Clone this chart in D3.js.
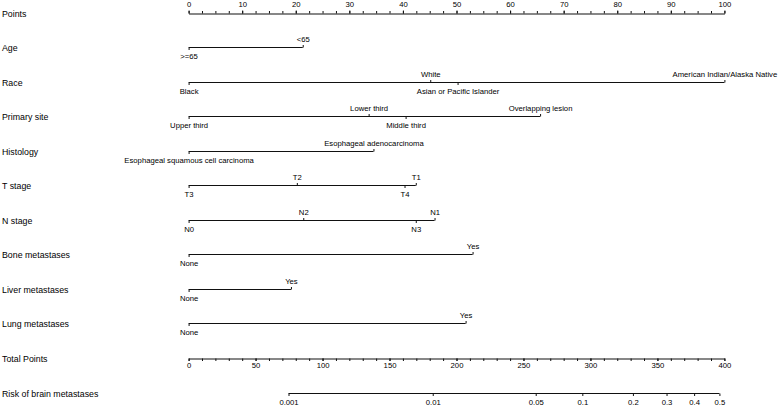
<!DOCTYPE html>
<html>
<head>
<meta charset="utf-8">
<script src="https://cdn.jsdelivr.net/npm/d3@7"></script>
<style>
  html, body { margin: 0; padding: 0; background: #fff; }
  svg { display: block; font-family: "Liberation Sans", Arial, Helvetica, sans-serif; }
  .rowlab { font-size: 8.8px; fill: #000; }
  .tick text { font-size: 7.7px; fill: #000; }
</style>
</head>
<body>
<svg id="chart" width="778" height="406"></svg>
<script>
// ---- data ----
const rowLabels = ["Points", "Age", "Race", "Primary site", "Histology", "T stage", "N stage",
  "Bone metastases", "Liver metastases", "Lung metastases", "Total Points", "Risk of brain metastases"];

const pointTicks = [0, 10, 20, 30, 40, 50, 60, 70, 80, 90, 100];
const totalTicks = [0, 50, 100, 150, 200, 250, 300, 350, 400];
const riskTicks = [0.001, 0.01, 0.05, 0.1, 0.2, 0.3, 0.4, 0.5];
const riskTickLabels = ["0.001", "0.01", "0.05", "0.1", "0.2", "0.3", "0.4", "0.5"];
// linear predictor = riskIntercept + riskSlope * totalPoints (logistic)
const riskIntercept = -8.508;
const riskSlope = 0.02147;

const ageLevels = [">=65", "<65"];
const agePoints = [0, 21.3];
const raceLevels = ["Black", "White", "Asian or Pacific Islander", "American Indian/Alaska Native"];
const racePoints = [0, 45.1, 50.2, 100];
const siteLevels = ["Upper third", "Lower third", "Middle third", "Overlapping lesion"];
const sitePoints = [0, 33.6, 40.5, 65.6];
const histLevels = ["Esophageal squamous cell carcinoma", "Esophageal adenocarcinoma"];
const histPoints = [0, 34.5];
const tLevels = ["T3", "T2", "T4", "T1"];
const tPoints = [0, 20.2, 40.3, 42.4];
const nLevels = ["N0", "N2", "N3", "N1"];
const nPoints = [0, 21.4, 42.4, 45.9];
const boneLevels = ["None", "Yes"];
const bonePoints = [0, 53.0];
const liverLevels = ["None", "Yes"];
const liverPoints = [0, 19.1];
const lungLevels = ["None", "Yes"];
const lungPoints = [0, 51.7];

const variables = [
  { row: "Age", levels: ageLevels, pts: agePoints },
  { row: "Race", levels: raceLevels, pts: racePoints },
  { row: "Primary site", levels: siteLevels, pts: sitePoints },
  { row: "Histology", levels: histLevels, pts: histPoints },
  { row: "T stage", levels: tLevels, pts: tPoints },
  { row: "N stage", levels: nLevels, pts: nPoints },
  { row: "Bone metastases", levels: boneLevels, pts: bonePoints },
  { row: "Liver metastases", levels: liverLevels, pts: liverPoints },
  { row: "Lung metastases", levels: lungLevels, pts: lungPoints }
];

// ---- layout ----
const svg = d3.select("#chart");
const x0 = 188.6, x1 = 724.4;
const xPts = d3.scaleLinear().domain([0, 100]).range([x0, x1]);
const xTot = d3.scaleLinear().domain([0, 400]).range([x0, x1]);
const logit = p => Math.log(p / (1 - p));
const riskToTotal = p => (logit(p) - riskIntercept) / riskSlope;
const yRow = d3.scalePoint().domain(rowLabels).range([12.5, 392.5]);
const yy = r => Math.round(yRow(r)) + 0.5;
const ink = "#111";

// row titles
svg.append("g").selectAll("text").data(rowLabels).join("text")
  .attr("class", "rowlab")
  .attr("x", 2)
  .attr("y", d => yy(d) + 3)
  .text(d => d);

function styleAxis(g) {
  g.attr("color", ink);
  g.selectAll("path.domain").attr("stroke-width", 1.1);
  g.selectAll(".tick line").attr("stroke-width", 1);
}

// Points axis
const minorPts = d3.range(0, 100.001, 2.5);
svg.append("g").attr("transform", `translate(0,${yy("Points")})`)
  .call(d3.axisTop(xPts).tickValues(minorPts).tickSize(2.5).tickSizeOuter(0).tickFormat(""))
  .call(styleAxis);
svg.append("g").attr("transform", `translate(0,${yy("Points")})`)
  .call(d3.axisTop(xPts).tickValues(pointTicks).tickSize(3).tickPadding(3.5).tickSizeOuter(0).tickFormat(d3.format("d")))
  .call(styleAxis)
  .call(g => g.select("path.domain").remove());

// Variable rows
variables.forEach(v => {
  const y = yy(v.row);
  const order = d3.range(v.levels.length).sort((a, b) => v.pts[a] - v.pts[b]);
  const below = order.filter((_, k) => k % 2 === 0);
  const above = order.filter((_, k) => k % 2 === 1);
  const xs = d3.scaleLinear().domain([0, 100]).range([x0, x1]);
  const ext = d3.extent(v.pts);
  svg.append("line")
    .attr("x1", xs(ext[0])).attr("x2", xs(ext[1]))
    .attr("y1", y).attr("y2", y)
    .attr("stroke", ink).attr("stroke-width", 1.1);
  svg.append("g").attr("transform", `translate(0,${y})`)
    .call(d3.axisTop(xs).tickValues(above.map(i => v.pts[i])).tickSize(2.5).tickPadding(3.5).tickSizeOuter(0)
      .tickFormat((d, k) => v.levels[above[k]]))
    .call(styleAxis)
    .call(g => g.select("path.domain").remove());
  svg.append("g").attr("transform", `translate(0,${y})`)
    .call(d3.axisBottom(xs).tickValues(below.map(i => v.pts[i])).tickSize(2.5).tickPadding(4).tickSizeOuter(0)
      .tickFormat((d, k) => v.levels[below[k]]))
    .call(styleAxis)
    .call(g => g.select("path.domain").remove());
});

// Total points axis
const minorTot = d3.range(0, 400.001, 10);
svg.append("g").attr("transform", `translate(0,${yy("Total Points")})`)
  .call(d3.axisBottom(xTot).tickValues(minorTot).tickSize(2.5).tickSizeOuter(0).tickFormat(""))
  .call(styleAxis);
svg.append("g").attr("transform", `translate(0,${yy("Total Points")})`)
  .call(d3.axisBottom(xTot).tickValues(totalTicks).tickSize(2.5).tickPadding(2).tickSizeOuter(0).tickFormat(d3.format("d")))
  .call(styleAxis)
  .call(g => g.select("path.domain").remove());

// Risk axis
const riskScale = d3.scaleLinear().domain([0, 400]).range([x0, x1]);
const riskX = p => riskScale(riskToTotal(p));
const yr = yy("Risk of brain metastases");
svg.append("line")
  .attr("x1", riskX(riskTicks[0])).attr("x2", riskX(riskTicks[riskTicks.length - 1]))
  .attr("y1", yr).attr("y2", yr)
  .attr("stroke", ink).attr("stroke-width", 1.1);
svg.append("g").attr("transform", `translate(0,${yr})`)
  .call(d3.axisBottom(riskScale).tickValues(riskTicks.map(riskToTotal)).tickSize(2.5).tickPadding(4).tickSizeOuter(0)
    .tickFormat((d, k) => riskTickLabels[k]))
  .call(styleAxis)
  .call(g => g.select("path.domain").remove());
</script>
</body>
</html>
